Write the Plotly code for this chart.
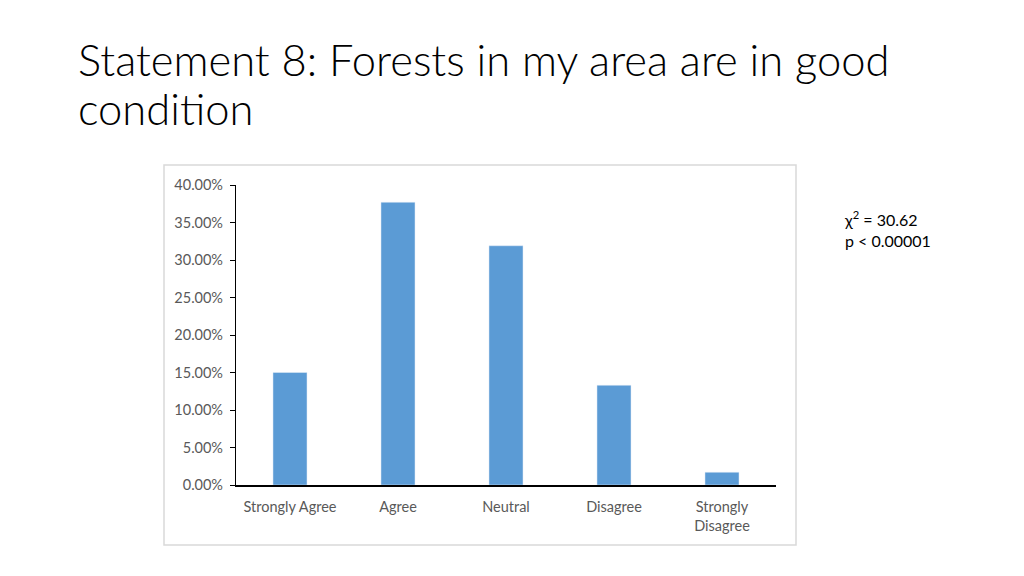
import plotly.graph_objects as go

categories = ["Strongly Agree", "Agree", "Neutral", "Disagree", "Strongly<br>Disagree"]
values = [0.150, 0.377, 0.319, 0.133, 0.017]
y_ticks = [0, 0.05, 0.10, 0.15, 0.20, 0.25, 0.30, 0.35, 0.40]

W, H = 1024, 576
OFF = 8  # page body margin offset
L, R, T, B = 236 - OFF, 776 - OFF, 185 - OFF, 485 - OFF

def px(x):
    return (x - OFF - L) / (R - L)

def py(y):
    return (B - (y - OFF)) / (B - T)

fig = go.Figure(go.Bar(
    x=categories, y=values, marker_color="#5b9bd5", width=0.315,
))

fig.update_layout(
    width=W, height=H,
    margin=dict(l=L, r=W - R, t=T, b=H - B),
    paper_bgcolor="white", plot_bgcolor="white",
    showlegend=False,
    font=dict(family="Lato", color="#595959", size=14.5),
    xaxis=dict(showline=True, linecolor="black", linewidth=1.5, ticks="",
               ticklabelstandoff=8,
               tickfont=dict(size=14.5, color="#595959"), fixedrange=True),
    yaxis=dict(range=[0, 0.4], tickvals=y_ticks, tickformat=".2%",
               showline=True, linecolor="black", linewidth=1.2, ticks="outside",
               ticklen=5, tickcolor="black", showgrid=False, zeroline=False,
               ticklabelstandoff=4,
               tickfont=dict(size=14.5, color="#595959")),
    shapes=[dict(type="rect", xref="paper", yref="paper",
                 x0=px(164), x1=px(796), y0=py(545), y1=py(165),
                 line=dict(color="#d9d9d9", width=1.5), fillcolor="rgba(0,0,0,0)")],
    annotations=[
        dict(text="Statement 8: Forests in my area are in good",
             xref="paper", yref="paper", x=px(76), y=py(59), xanchor="left", yanchor="middle",
             align="left", showarrow=False,
             font=dict(family="Lato", size=43.5, color="black", weight=300)),
        dict(text="condition",
             xref="paper", yref="paper", x=px(76), y=py(108), xanchor="left", yanchor="middle",
             align="left", showarrow=False,
             font=dict(family="Lato", size=43.5, color="black", weight=300)),
        dict(text="χ<sup>2</sup> = 30.62<br>p < 0.00001",
             xref="paper", yref="paper", x=px(842), y=py(229), xanchor="left", yanchor="middle",
             align="left", showarrow=False,
             font=dict(family="Lato", size=16, color="black")),
    ],
)

fig.write_html("out.html")
